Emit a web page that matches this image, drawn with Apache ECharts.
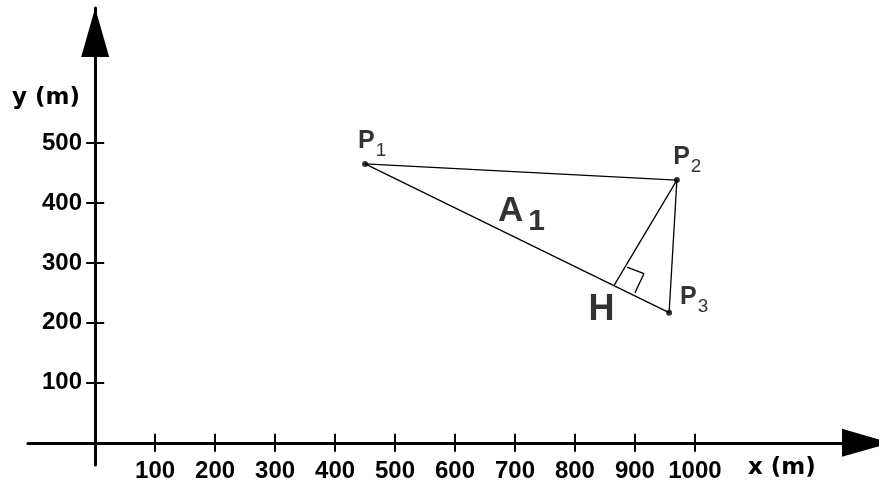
<!DOCTYPE html>
<html>
<head>
<meta charset="utf-8">
<script src="https://cdn.jsdelivr.net/npm/echarts@6/dist/echarts.min.js"></script>
<style>
  html, body { margin: 0; padding: 0; background: #ffffff; }
  #chart { width: 879px; height: 488px; }
</style>
</head>
<body>
<div id="chart"></div>
<script>
// ---- data (metres) ----
const pointNames = ['P', 'P', 'P'];
const pointSubs = ['1', '2', '3'];
const pointX = [450, 970, 957];
const pointY = [465, 438, 217];
const footH = [865, 262];               // foot of the perpendicular from P2
const rightAngleX = [900, 915, 887];    // right-angle mark corners
const rightAngleY = [250, 282, 293];
const areaLabel = [711, 386];           // where "A1" is written
const xTicks = [100, 200, 300, 400, 500, 600, 700, 800, 900, 1000];
const yTicks = [100, 200, 300, 400, 500];
const xName = 'x (m)';
const yName = 'y (m)';

// ---- layout / style ----
const xMin = -112, xMax = 1307;
const yMin = -37, yMax = 725;
const labelOffsets = [[-7, -35.4], [-3.7, -35.4], [11, -28.4]];
const tickFont = { fontFamily: 'Liberation Sans, Arial, sans-serif', fontWeight: 'bold', fontSize: 24, color: '#000' };
const plainNum = v => String(v);

const pts = pointX.map((x, i) => [x, pointY[i]]);
const triangle = [pts[0], pts[1], pts[2], pts[0]];
const perp = [pts[1], footH];
const square = rightAngleX.map((x, i) => [x, rightAngleY[i]]);

const chart = echarts.init(document.getElementById('chart'), null, { renderer: 'canvas' });

const axisLineStyle = { color: '#000', width: 3 };
const tickStyle = { color: '#000', width: 2 };

const option = {
  animation: false,
  backgroundColor: '#ffffff',
  grid: { left: 28, right: 0, top: 8, bottom: 23, containLabel: false, outerBoundsMode: 'none' },
  xAxis: [
    {
      type: 'value', min: xMin, max: xMax, position: 'bottom',
      axisLine: { show: true, onZero: true, onZeroAxisIndex: 0, lineStyle: axisLineStyle,
                  symbol: ['none', 'triangle'], symbolSize: [28, 49], symbolOffset: [0, -12.5] },
      axisTick: { show: true, length: 9, lineStyle: tickStyle, customValues: xTicks },
      axisLabel: Object.assign({ show: true, margin: -6, customValues: xTicks, formatter: plainNum }, tickFont),
      splitLine: { show: false }
    },
    {
      type: 'value', min: xMin, max: xMax, position: 'top',
      axisLine: { show: false, onZero: true, onZeroAxisIndex: 0 },
      axisTick: { show: true, length: 9, lineStyle: tickStyle, customValues: xTicks },
      axisLabel: { show: false },
      splitLine: { show: false }
    }
  ],
  yAxis: [
    {
      type: 'value', min: yMin, max: yMax, position: 'left',
      axisLine: { show: true, onZero: true, onZeroAxisIndex: 0, lineStyle: axisLineStyle,
                  symbol: ['none', 'triangle'], symbolSize: [28, 49], symbolOffset: [0, -24.5] },
      axisTick: { show: true, length: 9, lineStyle: tickStyle, customValues: yTicks },
      axisLabel: Object.assign({ show: true, margin: -54, customValues: yTicks, formatter: plainNum }, tickFont),
      splitLine: { show: false }
    },
    {
      type: 'value', min: yMin, max: yMax, position: 'right',
      axisLine: { show: false, onZero: true, onZeroAxisIndex: 0 },
      axisTick: { show: true, length: 9, lineStyle: tickStyle, customValues: yTicks },
      axisLabel: { show: false },
      splitLine: { show: false }
    }
  ],
  graphic: [
    { type: 'text', left: 12, top: 87, style: { text: yName, fill: '#000',
      font: 'bold 23px "DejaVu Sans", sans-serif' } },
    { type: 'text', left: 748, top: 457, style: { text: xName, fill: '#000',
      font: 'bold 23px "DejaVu Sans", sans-serif' } }
  ],
  series: [
    {
      type: 'line', xAxisIndex: 0, yAxisIndex: 0, data: triangle, symbol: 'none',
      lineStyle: { color: '#000', width: 1.3 }, silent: true, clip: false
    },
    {
      type: 'line', xAxisIndex: 0, yAxisIndex: 0, data: perp, symbol: 'none',
      lineStyle: { color: '#000', width: 1.3 }, silent: true, clip: false
    },
    {
      type: 'line', xAxisIndex: 0, yAxisIndex: 0, data: square, symbol: 'none',
      lineStyle: { color: '#000', width: 1.3 }, silent: true, clip: false
    },
    {
      type: 'scatter', xAxisIndex: 0, yAxisIndex: 0, symbol: 'circle', symbolSize: 6,
      itemStyle: { color: '#000' }, silent: true, clip: false,
      data: pts.map((p, i) => ({
        value: p,
        label: {
          show: true, position: 'inside', align: 'left', verticalAlign: 'top',
          offset: labelOffsets[i],
          formatter: '{p|' + pointNames[i] + '}{s|' + pointSubs[i] + '}',
          rich: {
            p: { fontFamily: 'Liberation Sans, Arial, sans-serif', fontWeight: 'bold', fontSize: 25, lineHeight: 25,
                 color: '#000', verticalAlign: 'top' },
            s: { fontFamily: 'Liberation Sans, Arial, sans-serif', fontSize: 19, lineHeight: 19,
                 color: '#000', verticalAlign: 'top', padding: [13, 0, 0, 1] }
          }
        }
      }))
    },
    {
      type: 'scatter', xAxisIndex: 0, yAxisIndex: 0, symbol: 'circle', symbolSize: 1,
      itemStyle: { color: 'rgba(0,0,0,0)' }, silent: true, clip: false,
      data: [
        {
          value: footH,
          label: {
            show: true, position: 'inside', align: 'center', verticalAlign: 'middle',
            offset: [-12.5, 24], formatter: 'H',
            fontFamily: 'Liberation Sans, Arial, sans-serif', fontWeight: 'bold', fontSize: 36, color: '#000'
          }
        },
        {
          value: areaLabel,
          label: {
            show: true, position: 'inside', align: 'center', verticalAlign: 'middle',
            formatter: '{a|A}{s|1}',
            rich: {
              a: { fontFamily: 'Liberation Sans, Arial, sans-serif', fontWeight: 'bold', fontSize: 35,
                   lineHeight: 35, color: '#000', verticalAlign: 'top' },
              s: { fontFamily: 'Liberation Sans, Arial, sans-serif', fontWeight: 'bold', fontSize: 30, lineHeight: 30,
                   color: '#000', verticalAlign: 'top', padding: [12.7, 0, 0, 5] }
            }
          }
        }
      ]
    }
  ]
};

chart.setOption(option);
</script>
</body>
</html>
